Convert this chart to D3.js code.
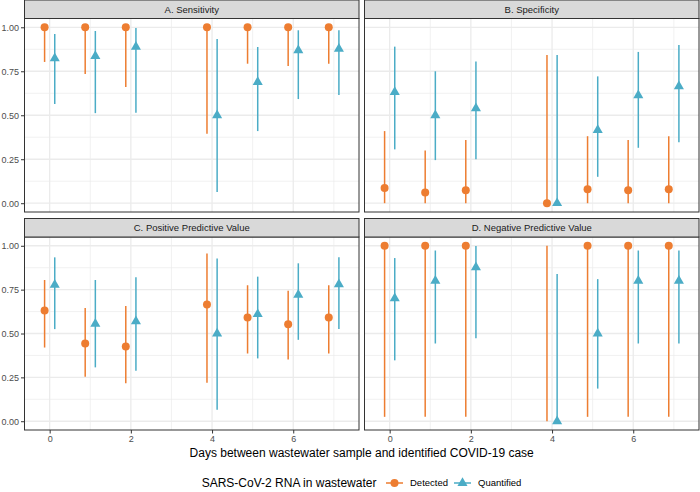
<!DOCTYPE html>
<html><head><meta charset="utf-8">
<script src="https://cdn.jsdelivr.net/npm/d3@7"></script>
<style>html,body{margin:0;padding:0;background:#fff;}svg{display:block;font-family:"Liberation Sans",Arial,sans-serif;}</style>
</head><body>
<svg id="chart" width="700" height="492"></svg>
<script>
// ---- data ----
const days = [0, 1, 2, 4, 5, 6, 7];
const panelTitles = ["A. Sensitivity", "B. Specificity", "C. Positive Predictive Value", "D. Negative Predictive Value"];
const seriesNames = ["Detected", "Quantified"];
const yTicks = [0, 0.25, 0.5, 0.75, 1];
const xTicks = [0, 2, 4, 6];

// A. Sensitivity
const sensDetEst = [1, 1, 1, 1, 1, 1, 1];
const sensDetLo  = [0.803, 0.734, 0.660, 0.395, 0.793, 0.780, 0.793];
const sensDetHi  = [1, 1, 1, 1, 1, 1, 1];
const sensQuaEst = [0.824, 0.837, 0.889, 0.500, 0.689, 0.869, 0.877];
const sensQuaLo  = [0.564, 0.512, 0.514, 0.063, 0.410, 0.592, 0.615];
const sensQuaHi  = [0.962, 0.979, 0.996, 0.934, 0.888, 0.983, 0.983];
// B. Specificity
const specDetEst = [0.087, 0.061, 0.074, 0, 0.080, 0.074, 0.080];
const specDetLo  = [0, 0, 0, 0, 0, 0, 0];
const specDetHi  = [0.410, 0.300, 0.359, 0.842, 0.381, 0.359, 0.381];
const specQuaEst = [0.632, 0.500, 0.539, 0, 0.416, 0.613, 0.664];
const specQuaLo  = [0.306, 0.245, 0.250, 0, 0.150, 0.315, 0.347];
const specQuaHi  = [0.890, 0.750, 0.806, 0.842, 0.721, 0.860, 0.900];
// C. Positive Predictive Value
const ppvDetEst = [0.631, 0.443, 0.426, 0.665, 0.591, 0.553, 0.591];
const ppvDetLo  = [0.420, 0.254, 0.216, 0.220, 0.386, 0.352, 0.386];
const ppvDetHi  = [0.805, 0.646, 0.657, 0.956, 0.775, 0.744, 0.775];
const ppvQuaEst = [0.777, 0.555, 0.570, 0.500, 0.610, 0.720, 0.780];
const ppvQuaLo  = [0.525, 0.307, 0.288, 0.066, 0.358, 0.464, 0.525];
const ppvQuaHi  = [0.934, 0.805, 0.820, 0.928, 0.824, 0.900, 0.934];
// D. Negative Predictive Value
const npvDetEst = [1, 1, 1, null, 1, 1, 1];
const npvDetLo  = [0.025, 0.025, 0.025, 0, 0.025, 0.025, 0.025];
const npvDetHi  = [1, 1, 1, 1, 1, 1, 1];
const npvQuaEst = [0.700, 0.800, 0.877, 0, 0.500, 0.800, 0.800];
const npvQuaLo  = [0.347, 0.443, 0.473, 0, 0.186, 0.443, 0.443];
const npvQuaHi  = [0.930, 0.973, 0.998, 0.839, 0.810, 0.973, 0.973];

const panelData = [
  [[sensDetEst, sensDetLo, sensDetHi], [sensQuaEst, sensQuaLo, sensQuaHi]],
  [[specDetEst, specDetLo, specDetHi], [specQuaEst, specQuaLo, specQuaHi]],
  [[ppvDetEst, ppvDetLo, ppvDetHi], [ppvQuaEst, ppvQuaLo, ppvQuaHi]],
  [[npvDetEst, npvDetLo, npvDetHi], [npvQuaEst, npvQuaLo, npvQuaHi]]
];

// ---- layout ----
const colors = ["#ED7D31", "#4BACC6"];
const dodge = [-0.125, 0.125];
const colX = [[24.5, 359], [364.5, 699]];
const rowY = [[18.5, 212], [237, 430]];
const stripH = 18.5;
const svg = d3.select("#chart");

const triangle = d3.symbol().type(d3.symbolTriangle).size(44);

panelTitles.forEach((title, i) => {
  const col = i % 2, row = Math.floor(i / 2);
  const x = d3.scaleLinear().domain([-0.62, 7.62]).range(colX[col]);
  const y = d3.scaleLinear().domain([-0.05, 1.05]).range([rowY[row][1], rowY[row][0]]);
  const g = svg.append("g");
  const [x0, x1] = colX[col], [y0, y1] = rowY[row];

  // grid
  const minorX = [1, 3, 5, 7], minorY = [0.125, 0.375, 0.625, 0.875];
  g.selectAll(".mx").data(minorX).join("line")
    .attr("x1", d => x(d)).attr("x2", d => x(d)).attr("y1", y0).attr("y2", y1)
    .attr("stroke", "#EBEBEB").attr("stroke-width", 0.7);
  g.selectAll(".my").data(minorY).join("line")
    .attr("x1", x0).attr("x2", x1).attr("y1", d => y(d)).attr("y2", d => y(d))
    .attr("stroke", "#EBEBEB").attr("stroke-width", 0.7);
  g.selectAll(".gx").data(xTicks).join("line")
    .attr("x1", d => x(d)).attr("x2", d => x(d)).attr("y1", y0).attr("y2", y1)
    .attr("stroke", "#EBEBEB").attr("stroke-width", 1.3);
  g.selectAll(".gy").data(yTicks).join("line")
    .attr("x1", x0).attr("x2", x1).attr("y1", d => y(d)).attr("y2", d => y(d))
    .attr("stroke", "#EBEBEB").attr("stroke-width", 1.3);

  // series
  panelData[i].forEach((ser, s) => {
    const [est, lo, hi] = ser;
    const pts = days.map((d, k) => ({d, est: est[k], lo: lo[k], hi: hi[k]}));
    g.selectAll(".lr" + s).data(pts).join("line")
      .attr("x1", p => x(p.d + dodge[s])).attr("x2", p => x(p.d + dodge[s]))
      .attr("y1", p => y(p.lo)).attr("y2", p => y(p.hi))
      .attr("stroke", colors[s]).attr("stroke-width", 1.5);
    const shown = pts.filter(p => p.est !== null);
    if (s === 0) {
      g.selectAll(".pt" + s).data(shown).join("circle")
        .attr("cx", p => x(p.d + dodge[s])).attr("cy", p => y(p.est)).attr("r", 4)
        .attr("fill", colors[s]);
    } else {
      g.selectAll(".pt" + s).data(shown).join("path")
        .attr("d", triangle)
        .attr("transform", p => `translate(${x(p.d + dodge[s])},${y(p.est)})`)
        .attr("fill", colors[s]);
    }
  });

  // border
  g.append("rect").attr("x", x0).attr("y", y0).attr("width", x1 - x0).attr("height", y1 - y0)
    .attr("fill", "none").attr("stroke", "#333333").attr("stroke-width", 1);
  // strip
  g.append("rect").attr("x", x0).attr("y", y0 - stripH).attr("width", x1 - x0).attr("height", stripH)
    .attr("fill", "#D9D9D9").attr("stroke", "#333333").attr("stroke-width", 1);
  g.append("text").attr("x", (x0 + x1) / 2).attr("y", y0 - stripH / 2).attr("dy", "0.35em")
    .attr("text-anchor", "middle").attr("font-size", 9.5).attr("fill", "#1A1A1A").text(title);

  // axes
  if (col === 0) {
    const ax = svg.append("g").attr("transform", `translate(${x0},0)`)
      .call(d3.axisLeft(y).tickValues(yTicks).tickFormat(d3.format(".2f")).tickSize(3.5).tickPadding(2).tickSizeOuter(0));
    ax.select(".domain").remove();
    ax.selectAll("line").attr("stroke", "#333333");
    ax.selectAll("text").attr("fill", "#4D4D4D").attr("font-size", 9).attr("font-family", "Liberation Sans, Arial, sans-serif");
  }
  if (row === 1) {
    const ax = svg.append("g").attr("transform", `translate(0,${y1})`)
      .call(d3.axisBottom(x).tickValues(xTicks).tickFormat(d3.format("d")).tickSize(3.5).tickPadding(2).tickSizeOuter(0));
    ax.select(".domain").remove();
    ax.selectAll("line").attr("stroke", "#333333");
    ax.selectAll("text").attr("fill", "#4D4D4D").attr("font-size", 9).attr("font-family", "Liberation Sans, Arial, sans-serif");
  }
});

// x axis title
svg.append("text").attr("x", 361.7).attr("y", 453).attr("dy", "0.35em").attr("text-anchor", "middle")
  .attr("font-size", 12).attr("fill", "#000").text("Days between wastewater sample and identified COVID-19 case");

// legend
const ly = 483;
svg.append("text").attr("x", 201.7).attr("y", ly).attr("dy", "0.35em").attr("font-size", 12)
  .attr("fill", "#000").text("SARS-CoV-2 RNA in wastewater");
const legX = [386, 454];
seriesNames.forEach((name, s) => {
  const lg = svg.append("g");
  lg.append("line").attr("x1", legX[s]).attr("x2", legX[s] + 17).attr("y1", ly).attr("y2", ly)
    .attr("stroke", colors[s]).attr("stroke-width", 1.5);
  if (s === 0) lg.append("circle").attr("cx", legX[s] + 8.5).attr("cy", ly).attr("r", 4).attr("fill", colors[s]);
  else lg.append("path").attr("d", triangle).attr("transform", `translate(${legX[s] + 8.5},${ly})`).attr("fill", colors[s]);
  lg.append("text").attr("x", legX[s] + 24).attr("y", ly).attr("dy", "0.35em").attr("font-size", 9.5)
    .attr("fill", "#000").text(name);
});
</script>
</body></html>
